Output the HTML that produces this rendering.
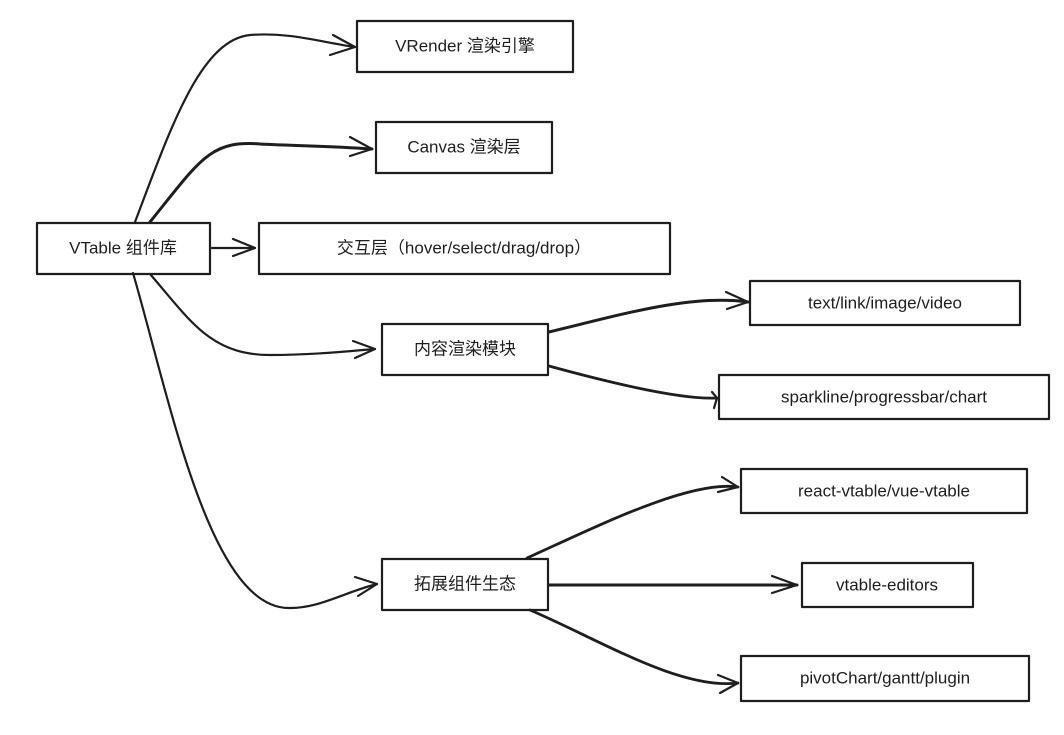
<!DOCTYPE html>
<html><head><meta charset="utf-8"><style>
html,body{margin:0;padding:0;background:#fff;}
svg text{font-family:"Liberation Sans","Noto Sans CJK SC",sans-serif;font-size:17px;fill:#1e1e1e;}
</style></head><body>
<svg width="1064" height="730" viewBox="0 0 1064 730" xmlns="http://www.w3.org/2000/svg">
<g fill="none" stroke="#1e1e1e" stroke-width="2.2" stroke-linecap="round" stroke-linejoin="round">
<!-- boxes -->
<rect x="37" y="223" width="173" height="51"/>
<rect x="357" y="21" width="216" height="51"/>
<rect x="376" y="122" width="176" height="51"/>
<rect x="259" y="223" width="411" height="51"/>
<rect x="382" y="324" width="166" height="51"/>
<rect x="750" y="281" width="270" height="44"/>
<rect x="719" y="375" width="330" height="44"/>
<rect x="741" y="469" width="286" height="44"/>
<rect x="802" y="563" width="171" height="44"/>
<rect x="741" y="656" width="288" height="45"/>
<rect x="382" y="559" width="166" height="51"/>
<!-- connectors -->
<path d="M135 222 C170 130 200 40 250 35 C290 32 320 42 355 47"/>
<path d="M333 35 L355 47 L330 55"/>
<path d="M150 222 C200 160 210 140 260 144 C300 146 330 146 372 149" stroke-width="3"/>
<path d="M350 137 L372 149 L350 156"/>
<path d="M212 248 L255 248"/>
<path d="M233 239 L255 248 L233 256"/>
<path d="M150 274 C190 320 210 355 270 355 C310 355 340 352 375 349"/>
<path d="M353 341 L375 349 L355 358"/>
<path d="M133 273 C170 400 210 610 290 608 C320 608 345 592 377 584"/>
<path d="M355 577 L377 584 L358 596"/>
<path d="M549 332 C620 315 690 294 748 302" stroke-width="3"/>
<path d="M726 292 L748 302 L727 309"/>
<path d="M549 366 C600 380 680 400 717 398" stroke-width="2.8"/>
<path d="M712 392 L717 398 L714 408"/>
<path d="M527 558 C600 525 690 480 738 487" stroke-width="2.8"/>
<path d="M722 477 L738 487 L718 492"/>
<path d="M549 585 L797 585" stroke-width="3"/>
<path d="M772 576 L797 585 L772 593"/>
<path d="M530 610 C600 640 680 690 738 683" stroke-width="2.8"/>
<path d="M718 675 L738 683 L720 693"/>
</g>
<g text-anchor="middle" dominant-baseline="central">
<text x="123" y="248">VTable 组件库</text>
<text x="465" y="46">VRender 渲染引擎</text>
<text x="464" y="147">Canvas 渲染层</text>
<text x="464" y="248">交互层（hover/select/drag/drop）</text>
<text x="465" y="349">内容渲染模块</text>
<text x="885" y="303">text/link/image/video</text>
<text x="884" y="397">sparkline/progressbar/chart</text>
<text x="884" y="491">react-vtable/vue-vtable</text>
<text x="887" y="585">vtable-editors</text>
<text x="885" y="678">pivotChart/gantt/plugin</text>
<text x="465" y="584">拓展组件生态</text>
</g>
</svg>
</body></html>
